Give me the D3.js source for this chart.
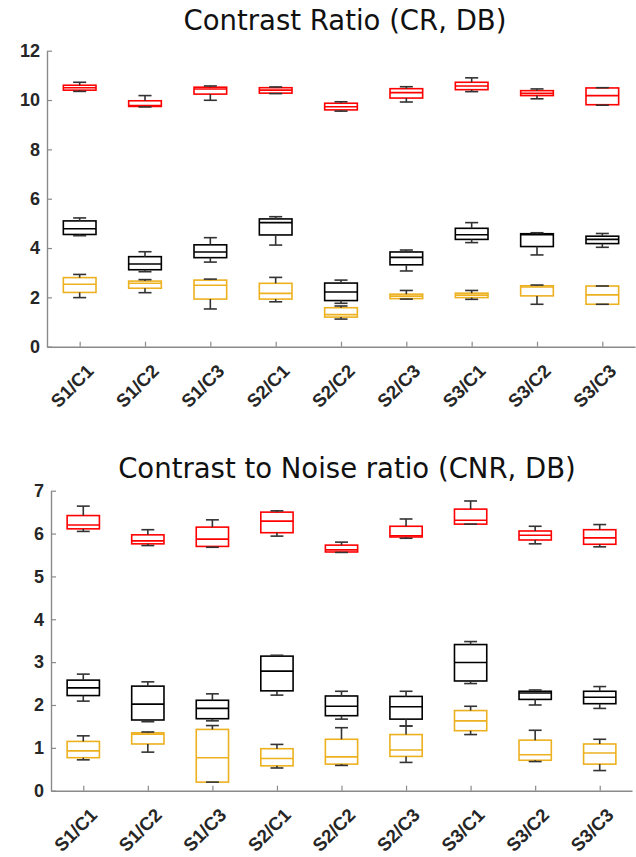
<!DOCTYPE html>
<html>
<head>
<meta charset="utf-8">
<script src="https://cdn.jsdelivr.net/npm/d3@7"></script>
<style>
  html, body { margin: 0; padding: 0; background: #fff; }
  svg { display: block; }
</style>
</head>
<body>
<svg id="chart" width="636" height="857"></svg>
<script>
// ---------- data ----------
const categories = ["S1/C1", "S1/C2", "S1/C3", "S2/C1", "S2/C2", "S2/C3", "S3/C1", "S3/C2", "S3/C3"];

// each entry: [lower whisker, Q1, median, Q3, upper whisker]
const crRed = [
  [10.35, 10.40, 10.50, 10.60, 10.72],
  [9.72, 9.74, 9.78, 9.97, 10.18],
  [9.99, 10.24, 10.45, 10.52, 10.57],
  [10.26, 10.28, 10.40, 10.50, 10.53],
  [9.55, 9.60, 9.73, 9.87, 9.93],
  [9.92, 10.08, 10.30, 10.46, 10.54],
  [10.34, 10.42, 10.57, 10.72, 10.90],
  [10.05, 10.18, 10.27, 10.38, 10.45],
  [9.79, 9.81, 10.18, 10.49, 10.50]
];
const crBlack = [
  [4.50, 4.55, 4.78, 5.10, 5.22],
  [3.04, 3.12, 3.35, 3.65, 3.85],
  [3.43, 3.61, 3.84, 4.13, 4.42],
  [4.12, 4.53, 5.03, 5.18, 5.27],
  [1.76, 1.87, 2.22, 2.58, 2.70],
  [3.07, 3.32, 3.62, 3.84, 3.92],
  [4.22, 4.35, 4.54, 4.80, 5.03],
  [3.72, 4.06, 4.54, 4.58, 4.62],
  [4.03, 4.18, 4.35, 4.48, 4.59]
];
const crOrange = [
  [1.99, 2.20, 2.53, 2.80, 2.93],
  [2.19, 2.37, 2.57, 2.66, 2.72],
  [1.53, 1.93, 2.49, 2.70, 2.74],
  [1.82, 1.93, 2.16, 2.57, 2.81],
  [1.12, 1.20, 1.30, 1.58, 1.65],
  [1.93, 1.95, 2.05, 2.13, 2.28],
  [1.92, 1.99, 2.09, 2.17, 2.28],
  [1.72, 2.06, 2.42, 2.47, 2.50],
  [1.72, 1.72, 2.10, 2.46, 2.46]
];

const cnrRed = [
  [6.05, 6.11, 6.20, 6.42, 6.64],
  [5.72, 5.76, 5.83, 5.97, 6.09],
  [5.68, 5.70, 5.87, 6.15, 6.32],
  [5.94, 6.02, 6.29, 6.50, 6.53],
  [5.56, 5.57, 5.62, 5.73, 5.80],
  [5.89, 5.92, 5.95, 6.17, 6.34],
  [6.22, 6.22, 6.31, 6.57, 6.76],
  [5.76, 5.85, 5.96, 6.06, 6.17],
  [5.69, 5.75, 5.90, 6.09, 6.21]
];
const cnrBlack = [
  [2.09, 2.22, 2.40, 2.58, 2.72],
  [1.61, 1.65, 2.02, 2.44, 2.54],
  [1.63, 1.68, 1.92, 2.11, 2.26],
  [2.23, 2.33, 2.79, 3.14, 3.16],
  [1.67, 1.75, 1.97, 2.21, 2.32],
  [1.51, 1.67, 1.96, 2.20, 2.32],
  [2.50, 2.56, 2.99, 3.41, 3.48],
  [2.00, 2.13, 2.28, 2.32, 2.35],
  [1.92, 2.03, 2.18, 2.32, 2.43]
];
const cnrOrange = [
  [0.72, 0.77, 0.93, 1.15, 1.28],
  [0.90, 1.09, 1.32, 1.35, 1.37],
  [0.20, 0.20, 0.77, 1.43, 1.52],
  [0.53, 0.58, 0.75, 0.98, 1.08],
  [0.59, 0.62, 0.79, 1.20, 1.47],
  [0.66, 0.80, 0.95, 1.31, 1.51],
  [1.31, 1.40, 1.63, 1.87, 1.97],
  [0.68, 0.71, 0.84, 1.18, 1.41],
  [0.47, 0.62, 0.88, 1.09, 1.20]
];

const crTicks = [0, 2, 4, 6, 8, 10, 12];
const cnrTicks = [0, 1, 2, 3, 4, 5, 6, 7];
const seriesColors = ["#ff0000", "#000000", "#edb120"];

// ---------- layout ----------
const panels = [
  {
    title: "Contrast Ratio (CR, DB)", titleX: 345, titleY: 30,
    xRange: [47, 635], yRange: [346.7, 50.7], yMax: 12, ticks: crTicks,
    series: [crRed, crBlack, crOrange]
  },
  {
    title: "Contrast to Noise ratio (CNR, DB)", titleX: 347, titleY: 478,
    xRange: [51, 632], yRange: [790.7, 490.7], yMax: 7, ticks: cnrTicks,
    series: [cnrRed, cnrBlack, cnrOrange]
  }
];

const svg = d3.select("#chart");
const axisColor = "#8a8a8a";
const labelColor = "#262626";

panels.forEach(p => {
  const g = svg.append("g");
  const x = d3.scalePoint().domain(categories).range(p.xRange).padding(0.5);
  const y = d3.scaleLinear().domain([0, p.yMax]).range(p.yRange);
  const step = x.step();
  const boxW = step * 0.5;
  const capW = step * 0.2;

  // title
  g.append("text")
    .attr("x", p.titleX).attr("y", p.titleY)
    .attr("text-anchor", "middle")
    .style("font-family", "'DejaVu Sans', sans-serif")
    .style("font-size", "27.5px")
    .style("fill", "#111")
    .text(p.title);

  // y axis
  const yAxis = g.append("g")
    .attr("transform", `translate(${p.xRange[0]},0)`)
    .call(d3.axisLeft(y).tickValues(p.ticks).tickSizeInner(-5).tickSizeOuter(0).tickPadding(7).tickFormat(d3.format("d")));
  // x axis
  const xAxis = g.append("g")
    .attr("transform", `translate(0,${p.yRange[0]})`)
    .call(d3.axisBottom(x).tickSizeInner(-5).tickSizeOuter(0).tickPadding(0));

  [yAxis, xAxis].forEach(a => {
    a.select(".domain").attr("stroke", axisColor).attr("stroke-width", 1.4);
    a.selectAll(".tick line").attr("stroke", axisColor).attr("stroke-width", 1.2);
    a.selectAll("text")
      .style("font-family", "'Liberation Sans', Arial, sans-serif")
      .style("font-weight", "bold")
      .style("font-size", "18px")
      .attr("fill", labelColor);
  });
  xAxis.selectAll(".tick text")
    .attr("y", null).attr("dy", null)
    .style("font-size", "18.5px")
    .attr("text-anchor", "end")
    .attr("dominant-baseline", "central")
    .attr("transform", "translate(10,21) rotate(-45)");

  // boxes
  p.series.forEach((data, si) => {
    const col = seriesColors[si];
    data.forEach((d, i) => {
      const cx = x(categories[i]);
      const [lo, q1, med, q3, hi] = d;
      const bg = g.append("g");
      // box
      bg.append("rect")
        .attr("x", cx - boxW / 2).attr("width", boxW)
        .attr("y", y(q3)).attr("height", Math.max(0.5, y(q1) - y(q3)))
        .attr("fill", "none").attr("stroke", col).attr("stroke-width", 1.6);
      // median
      bg.append("line")
        .attr("x1", cx - boxW / 2).attr("x2", cx + boxW / 2)
        .attr("y1", y(med)).attr("y2", y(med))
        .attr("stroke", col).attr("stroke-width", 1.6);
      // whiskers
      const wcol = "#333";
      bg.append("line").attr("x1", cx).attr("x2", cx)
        .attr("y1", y(q3)).attr("y2", y(hi))
        .attr("stroke", wcol).attr("stroke-width", 1.6);
      bg.append("line").attr("x1", cx).attr("x2", cx)
        .attr("y1", y(q1)).attr("y2", y(lo))
        .attr("stroke", wcol).attr("stroke-width", 1.6);
      // caps
      [hi, lo].forEach(v => {
        bg.append("line")
          .attr("x1", cx - capW / 2).attr("x2", cx + capW / 2)
          .attr("y1", y(v)).attr("y2", y(v))
          .attr("stroke", wcol).attr("stroke-width", 1.6);
      });
    });
  });
});
</script>
</body>
</html>
